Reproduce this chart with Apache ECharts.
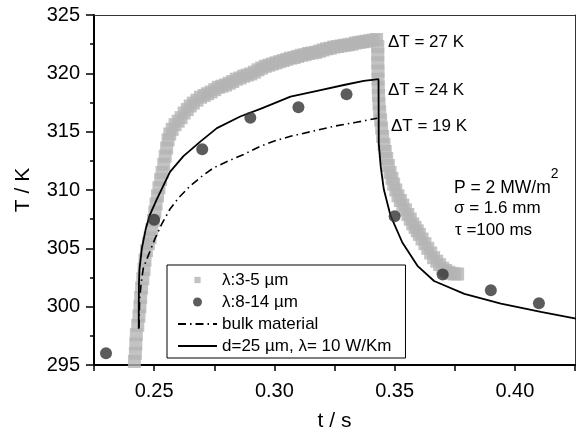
<!DOCTYPE html>
<html><head><meta charset="utf-8">
<script src="https://cdn.jsdelivr.net/npm/echarts@6/dist/echarts.min.js"></script>
<style>html,body{margin:0;padding:0;background:#fff}#c{width:578px;height:437px}</style>
</head><body><div id="c"></div>
<script>
// λ:3-5 µm (gray squares): time [s], temperature [K]
const grayT = [0.2418,0.2422,0.2424,0.2426,0.2432,0.2437,0.2441,0.2444,0.2448,0.2453,0.2458,0.2462,0.2468,0.2476,0.2483,0.2490,0.2497,0.2503,0.2508,0.2514,0.2520,0.2527,0.2533,0.2540,0.2546,0.2552,0.2558,0.2565,0.2575,0.2587,0.2600,0.2612,0.2625,0.2638,0.2650,0.2663,0.2678,0.2693,0.2708,0.2722,0.2737,0.2752,0.2767,0.2782,0.2797,0.2812,0.2827,0.2842,0.2857,0.2872,0.2887,0.2902,0.2917,0.2932,0.2947,0.2962,0.2977,0.2992,0.3007,0.3022,0.3037,0.3052,0.3067,0.3082,0.3097,0.3112,0.3127,0.3142,0.3157,0.3172,0.3187,0.3202,0.3217,0.3232,0.3247,0.3262,0.3277,0.3292,0.3307,0.3322,0.3337,0.3352,0.3367,0.3382,0.3397,0.3412,0.3425,
  0.3430,0.3430,0.3430,0.3431,0.3431,0.3432,0.3433,0.3435,0.3438,0.3442,0.3446,0.3450,0.3456,0.3461,0.3467,0.3474,0.3481,0.3489,0.3496,0.3505,0.3514,0.3524,0.3534,0.3545,0.3555,0.3565,0.3575,0.3585,0.3594,0.3603,0.3614,0.3626,0.3638,0.3650,0.3662,0.3675,0.3687,0.3700,0.3712,0.3725,0.3737,0.3750,0.3762];
const grayK = [295.3,296.0,296.8,297.6,298.4,299.2,300.0,300.8,301.6,302.4,303.2,304.0,304.8,305.4,305.9,306.6,307.4,308.1,308.8,309.5,310.2,310.9,311.5,312.2,312.9,313.6,314.3,314.8,315.2,315.6,315.9,316.2,316.6,316.9,317.2,317.45,317.7,317.95,318.1,318.25,318.4,318.6,318.8,318.9,319.0,319.15,319.3,319.5,319.6,319.75,319.85,319.95,320.1,320.3,320.45,320.6,320.7,320.8,320.9,321.0,321.1,321.2,321.3,321.35,321.45,321.55,321.6,321.7,321.75,321.8,321.9,322.0,322.1,322.15,322.25,322.3,322.35,322.4,322.45,322.5,322.6,322.65,322.7,322.75,322.8,322.85,322.9,
  322.3,321.6,320.9,320.2,319.5,318.8,318.1,317.4,316.7,316.0,315.3,314.6,313.9,313.3,312.7,312.1,311.5,311.0,310.5,310.0,309.5,309.1,308.7,308.3,307.9,307.5,307.1,306.8,306.5,306.2,305.8,305.4,305.0,304.6,304.2,303.9,303.6,303.3,303.1,302.95,302.85,302.8,302.8];

// λ:8-14 µm (dark circles)
const circT = [0.23,0.25,0.27,0.29,0.31,0.33,0.35,0.37,0.39,0.41];
const circK = [296.0,307.45,313.5,316.2,317.1,318.2,307.75,302.75,301.4,300.3];

// bulk material (dash-dot line)
const bulkT = [0.2437,0.2440,0.2446,0.2455,0.2476,0.2505,0.2532,0.2567,0.2605,0.2650,0.2700,0.2747,0.2810,0.2872,0.2942,0.3000,0.3067,0.3150,0.3247,0.3340,0.3428];
const bulkK = [298.2,300.7,302.0,303.3,304.4,305.9,307.1,308.4,309.4,310.35,311.2,311.9,312.5,313.05,313.75,314.2,314.6,315.0,315.46,315.8,316.15];

// d=25 µm, λ= 10 W/Km (solid line)
const modelT = [0.2436,0.2436,0.2437,0.2439,0.2449,0.2465,0.2481,0.2511,0.2566,0.2622,0.2692,0.2761,0.2858,0.2942,0.2983,0.3067,0.3178,0.3289,0.3372,0.3433,0.3434,0.3442,0.3455,0.3483,0.3532,0.3595,0.3664,0.3790,0.3942,0.4108,0.4254];
const modelK = [298.1,300.0,302.0,303.2,305.0,306.65,307.8,309.2,311.55,312.9,314.15,315.3,316.3,316.95,317.3,318.0,318.5,319.0,319.35,319.5,314.0,312.05,310.06,307.8,305.5,303.5,302.2,301.1,300.26,299.55,298.98];

const seriesNames = ['λ:3-5 µm','λ:8-14 µm','bulk material','d=25 µm, λ= 10 W/Km'];
const xTicks = ['0.25','0.30','0.35','0.40'];

const zip = (a,b) => a.map((v,i)=>[v,b[i]]);
const FF = 'Liberation Sans, Arial, Helvetica, sans-serif';
const CLEAR = 'rgba(0,0,0,0)';

const chart = echarts.init(document.getElementById('c'), null, {renderer:'canvas'});
chart.setOption({
  animation:false,
  backgroundColor:'#fff',
  grid:{left:94,right:3,top:15,bottom:70},
  xAxis:[{
    type:'value', min:0.225, max:0.425, interval:0.025,
    axisLine:{lineStyle:{color:'#000',width:2}},
    axisTick:{show:true,length:6,lineStyle:{color:'#000',width:1.5}},
    axisLabel:{fontSize:20,color:'#000',fontFamily:FF,margin:16,showMinLabel:true,showMaxLabel:true,
      formatter:v=>{const s=v.toFixed(2); return xTicks.includes(s) && Math.abs(v-parseFloat(s))<1e-6 ? s : '';}},
    splitLine:{show:false},
    name:'t / s', nameLocation:'middle', nameGap:46,
    nameTextStyle:{fontSize:21,color:'#000',fontFamily:FF}
  },{
    type:'value', position:'top', min:0.225, max:0.425,
    axisLine:{show:true,onZero:false,lineStyle:{color:'#333',width:1}},
    axisTick:{show:false}, axisLabel:{show:false}, splitLine:{show:false}
  }],
  yAxis:[{
    type:'value', min:295, max:325, interval:5,
    axisLine:{show:true,lineStyle:{color:'#000',width:2}},
    axisTick:{show:true,length:8,lineStyle:{color:'#000',width:1.5}},
    minorTick:{show:true,splitNumber:2,length:4,lineStyle:{color:'#000',width:1.5}},
    axisLabel:{fontSize:20,color:'#000',fontFamily:FF,margin:14},
    splitLine:{show:false},
    name:'T / K', nameLocation:'middle', nameGap:60,
    nameTextStyle:{fontSize:21,color:'#000',fontFamily:FF}
  },{
    type:'value', position:'right', min:295, max:325,
    axisLine:{show:true,onZero:false,lineStyle:{color:'#333',width:1}},
    axisTick:{show:false}, axisLabel:{show:false}, splitLine:{show:false}
  }],
  legend:{
    orient:'vertical', left:167, top:265,
    padding:[6,14,3,10], itemWidth:39, itemHeight:9, itemGap:4,
    borderColor:'#000', borderWidth:1, backgroundColor:'#fff',
    textStyle:{fontSize:17,color:'#000',fontFamily:FF,lineHeight:18},
    data:[
      {name:seriesNames[0], icon:'path://M0,0M10,10M1.5,1.5L8.5,1.5L8.5,8.5L1.5,8.5Z'},
      {name:seriesNames[1], icon:'circle'},
      {name:seriesNames[2]},
      {name:seriesNames[3]}
    ]
  },
  series:[
    {name:seriesNames[0], type:'scatter', data:zip(grayT,grayK), symbol:'rect', symbolSize:13,
     itemStyle:{color:'#b4b4b4'}, z:1},
    {name:seriesNames[2], type:'line', data:zip(bulkT,bulkK), showSymbol:false, symbol:'none',
     itemStyle:{color:CLEAR},
     lineStyle:{color:'#000',width:1.6,type:[8,4,1.5,4]}, z:2},
    {name:seriesNames[3], type:'line', data:zip(modelT,modelK), showSymbol:false, symbol:'none',
     itemStyle:{color:CLEAR},
     lineStyle:{color:'#000',width:1.8}, z:3},
    {name:seriesNames[1], type:'scatter', data:zip(circT,circK), symbol:'circle', symbolSize:12,
     itemStyle:{color:'#333'}, z:4}
  ],
  graphic:[
    {type:'text', x:388, y:42, style:{text:'ΔT = 27 K', fontSize:17, fontFamily:FF, fill:'#000', verticalAlign:'middle'}},
    {type:'text', x:388, y:90, style:{text:'ΔT = 24 K', fontSize:17, fontFamily:FF, fill:'#000', verticalAlign:'middle'}},
    {type:'text', x:391, y:126, style:{text:'ΔT = 19 K', fontSize:17, fontFamily:FF, fill:'#000', verticalAlign:'middle'}},
    {type:'text', x:454, y:188, style:{text:'{n|P = 2 MW/m}{s|2}', fontFamily:FF, fill:'#000', verticalAlign:'middle',
      rich:{n:{fontSize:17.5,fontFamily:FF,lineHeight:42}, s:{fontSize:14,fontFamily:FF,lineHeight:14,verticalAlign:'top'}}}},
    {type:'text', x:454, y:208, style:{text:'σ = 1.6 mm', fontSize:17, fontFamily:FF, fill:'#000', verticalAlign:'middle'}},
    {type:'text', x:455, y:230, style:{text:'τ =100 ms', fontSize:17, fontFamily:FF, fill:'#000', verticalAlign:'middle'}}
  ]
});
</script></body></html>
